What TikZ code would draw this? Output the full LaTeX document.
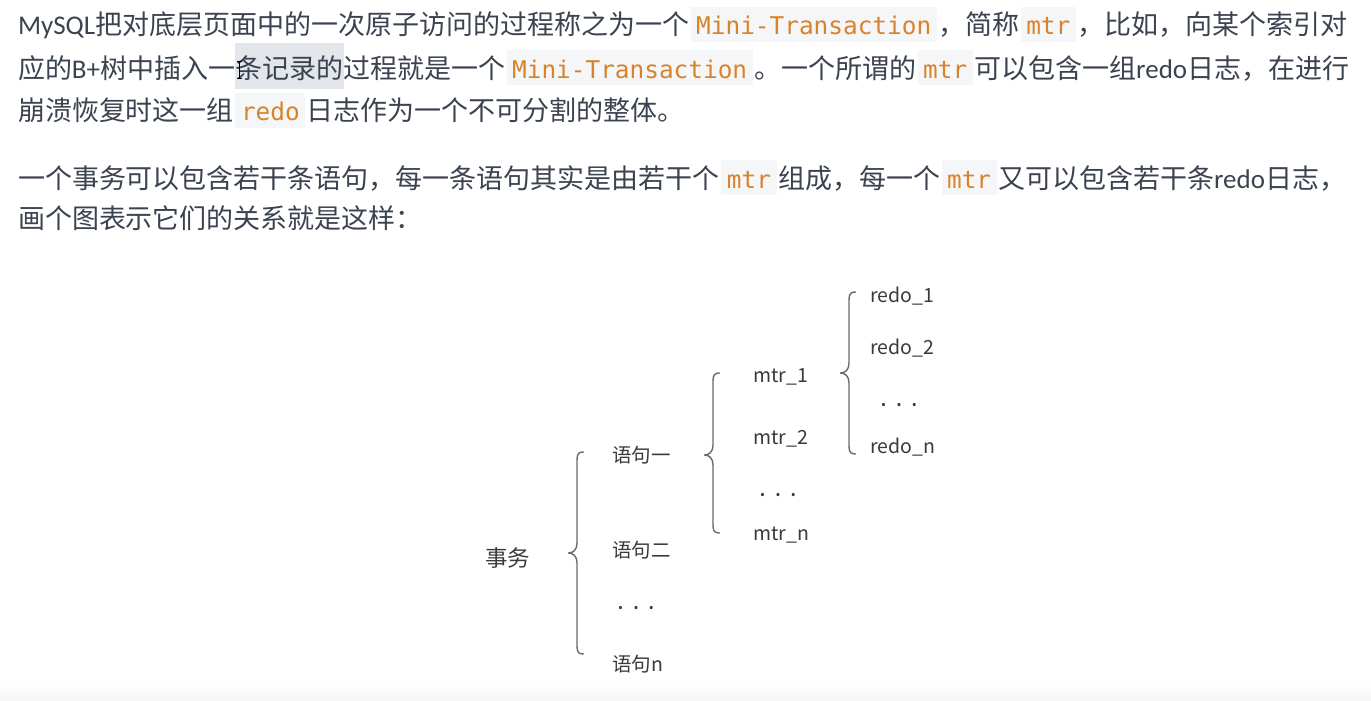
\documentclass[tikz,border=0pt]{standalone}
\usepackage{fontspec}
\setmainfont{Noto Sans CJK SC}
\newfontfamily\codefont{DejaVu Sans Mono}
\newfontfamily\cjkfont{Noto Sans CJK SC}
\newfontfamily\latfont{Carlito}
\newfontfamily\dotfont{Noto Sans}
\definecolor{txt}{HTML}{3C4350}
\definecolor{codefg}{HTML}{D9822B}
\definecolor{codebg}{HTML}{F5F6F7}
\definecolor{selbg}{HTML}{E3E6EA}
\definecolor{diagtxt}{HTML}{3A3A3A}
\definecolor{bracecol}{HTML}{6A6A6A}
\newcommand\lat[1]{{\latfont #1}}
\newcommand\code[1]{\hspace{1.5pt}{\setlength\fboxsep{0pt}\colorbox{codebg}{\rule[-7pt]{0pt}{35pt}\hspace{5.5pt}{\codefont\fontsize{24.4}{28}\selectfont\color{codefg}#1}\hspace{5.5pt}}}\hspace{1.5pt}}
\newcommand\threedots{·\hspace{9pt}·\hspace{9pt}·}
\newcommand\mybrace[4]{%
  \draw[bracestyle] (#1+6.5,#2) .. controls (#1+1.5,#2) and (#1,#2+2) .. (#1,#2+8)
    -- (#1,#4-10) .. controls (#1,#4-3) and (#1-4,#4) .. (#1-8.5,#4)
    .. controls (#1-4,#4) and (#1,#4+3) .. (#1,#4+10)
    -- (#1,#3-8) .. controls (#1,#3-2) and (#1+1.5,#3) .. (#1+6.5,#3);}
\begin{document}
\begin{tikzpicture}[x=1pt,y=-1pt,
  para/.style={anchor=base west,inner sep=0pt,outer sep=0pt,text=txt,font=\fontsize{27}{43}\selectfont},
  dtext/.style={anchor=base west,inner sep=0pt,text=diagtxt,font=\cjkfont\fontsize{19.5}{24}\selectfont},
  dbig/.style={anchor=base west,inner sep=0pt,text=diagtxt,font=\cjkfont\fontsize{22.5}{27}\selectfont},
  ddots/.style={anchor=base,inner sep=0pt,text=diagtxt,font=\dotfont\fontsize{24}{28}\selectfont},
  bracestyle/.style={draw=bracecol,line width=1.4pt,line cap=round,line join=round}]
\useasboundingbox (0,0) rectangle (1371,701);
\fill[white] (0,0) rectangle (1371,701);
\shade[top color=white,bottom color={rgb,255:red,245;green,245;blue,246}] (0,684) rectangle (1371,701);
% selection highlight
\fill[selbg] (235,43) rectangle (344,89);
% paragraph text
\node[para] (l1) at (18,35) {\lat{MySQL}把对底层页面中的一次原子访问的过程称之为一个\code{Mini-Transaction}，简称\code{mtr}，比如，向某个索引对};
\node[para] (l2) at (18,78) {应的\lat{B+}树中插入一条记录的过程就是一个\code{Mini-Transaction}。一个所谓的\code{mtr}可以包含一组\lat{redo}日志，在进行};
\node[para] (l3) at (18,121) {崩溃恢复时这一组\code{redo}日志作为一个不可分割的整体。};
\node[para] (l4) at (18,188) {一个事务可以包含若干条语句，每一条语句其实是由若干个\code{mtr}组成，每一个\code{mtr}又可以包含若干条\lat{redo}日志，};
\node[para] (l5) at (18,228) {画个图表示它们的关系就是这样：};
% text cursor
\draw[black,line width=1.3pt] (239.5,62) -- (239.5,79);
\draw[black,line width=1pt] (237,62) -- (242,62) (237,79) -- (242,79);
% diagram
\node[dbig] (tx) at (485,566) {事务};
\node[dtext] (s1) at (612,462) {语句一};
\node[dtext] (s2) at (612,557) {语句二};
\node[ddots] (sd) at (636,616) {\threedots};
\node[dtext] (sn) at (612,671) {语句n};
\node[dtext] (m1) at (753,382) {mtr\_1};
\node[dtext] (m2) at (753,444) {mtr\_2};
\node[ddots] (md) at (778,503) {\threedots};
\node[dtext] (mn) at (753,540) {mtr\_n};
\node[dtext] (r1) at (870,302) {redo\_1};
\node[dtext] (r2) at (870,354) {redo\_2};
\node[ddots] (rd) at (899,413) {\threedots};
\node[dtext] (rn) at (870,453) {redo\_n};
% braces
\mybrace{577}{452}{654}{553}
\mybrace{713}{373}{533}{455}
\mybrace{849}{292}{454}{373}
\end{tikzpicture}
\end{document}
